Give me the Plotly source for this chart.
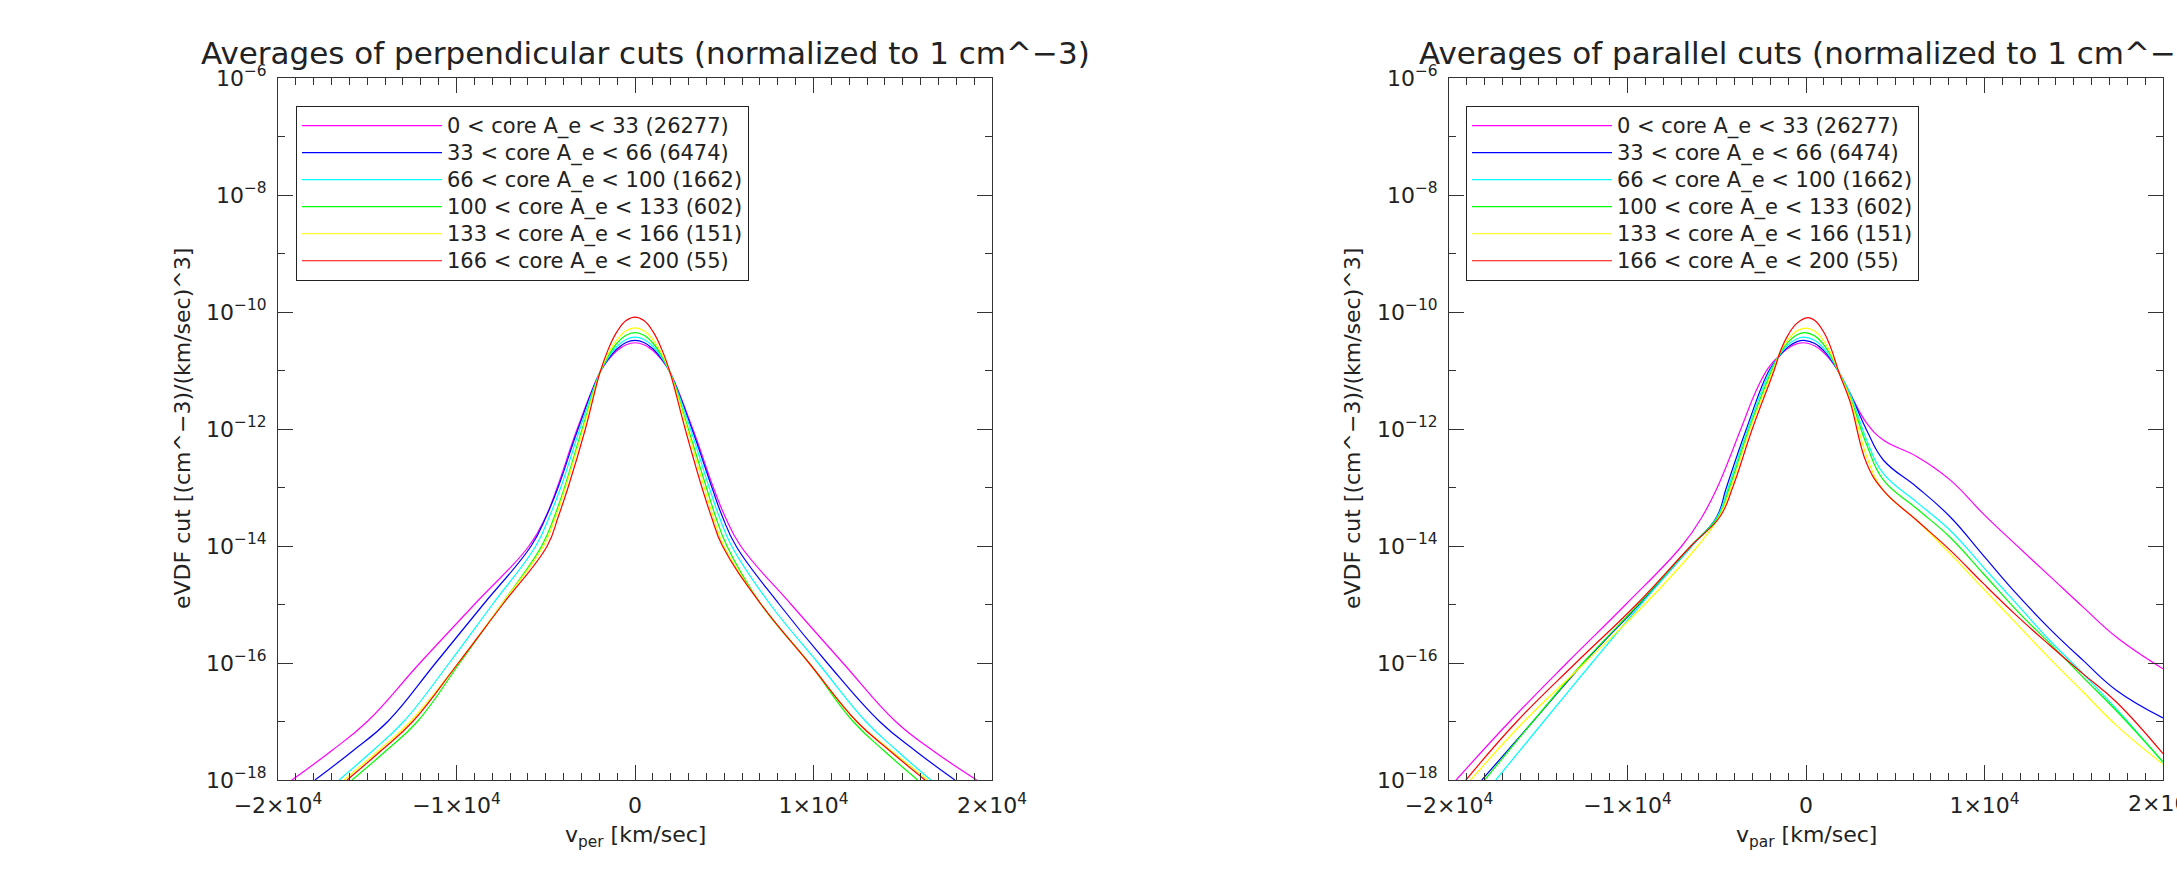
import plotly.graph_objects as go

W, H = 2177, 877

# ---------------- data (log10 of eVDF cut) ----------------
labels = ["0 < core A_e < 33 (26277)", "33 < core A_e < 66 (6474)",
          "66 < core A_e < 100 (1662)", "100 < core A_e < 133 (602)",
          "133 < core A_e < 166 (151)", "166 < core A_e < 200 (55)"]
colors = ["#ff00ff", "#0000ff", "#00ffff", "#00ff00", "#ffff00", "#ff0000"]

# perpendicular cuts
per_v_0 = [-19220, -17000, -15000, -12050, -9000, -5940, -5000, -4360, -3240, -1960, -1500, -1000, -500, 0, 500, 1000, 1500, 1960, 3240, 4390, 5050, 5920, 8750, 11650, 14600, 16700, 19140]
per_l_0 = [-18, -17.5, -17, -16, -15, -14, -13.5, -13, -12, -11.03, -10.82, -10.657, -10.559, -10.526, -10.559, -10.657, -10.82, -11.03, -12, -13, -13.5, -14, -15, -16, -17, -17.5, -18]
per_v_1 = [-17930, -15800, -13850, -11170, -8500, -5820, -4980, -4310, -3190, -1960, -1500, -1000, -500, 0, 500, 1000, 1500, 1960, 3190, 4310, 4900, 5660, 8090, 10770, 13700, 15700, 17920]
per_l_1 = [-18, -17.5, -17, -16, -15, -14, -13.5, -13, -12, -11.03, -10.805, -10.628, -10.521, -10.486, -10.521, -10.628, -10.805, -11.03, -12, -13, -13.5, -14, -15, -16, -17, -17.5, -18]
per_v_2 = [-16580, -14700, -12960, -10410, -7990, -5560, -4800, -4160, -3090, -1960, -1500, -1000, -500, 0, 500, 1000, 1500, 1960, 3110, 4160, 4720, 5410, 7580, 10260, 12930, 14680, 16570]
per_l_2 = [-18, -17.5, -17, -16, -15, -14, -13.5, -13, -12, -11.03, -10.78, -10.586, -10.469, -10.43, -10.469, -10.586, -10.78, -11.03, -12, -13, -13.5, -14, -15, -16, -17, -17.5, -18]
per_v_3 = [-15850, -13950, -12190, -9820, -7480, -5230, -4520, -3950, -2960, -1960, -1500, -1000, -500, 0, 500, 1000, 1500, 1960, 2985, 4000, 4520, 5150, 7070, 9750, 12220, 13950, 15830]
per_l_3 = [-18, -17.5, -17, -16, -15, -14, -13.5, -13, -12, -11.03, -10.75, -10.53, -10.398, -10.354, -10.398, -10.53, -10.75, -11.03, -12, -13, -13.5, -14, -15, -16, -17, -17.5, -18]
per_v_4 = [-16300, -14380, -12580, -9900, -7480, -5130, -4450, -3900, -2910, -1960, -1500, -1000, -500, 0, 500, 1000, 1500, 1960, 2930, 3880, 4380, 4970, 7070, 9750, 12420, 14350, 16410]
per_l_4 = [-18, -17.5, -17, -16, -15, -14, -13.5, -13, -12, -11.03, -10.715, -10.468, -10.319, -10.27, -10.319, -10.468, -10.715, -11.03, -12, -13, -13.5, -14, -15, -16, -17, -17.5, -18]
per_v_5 = [-16130, -14230, -12450, -9900, -7420, -4920, -4300, -3750, -2780, -1960, -1500, -1000, -500, 0, 500, 1000, 1500, 1960, 2810, 3750, 4280, 4900, 7070, 9750, 12420, 14270, 16250]
per_l_5 = [-18, -17.5, -17, -16, -15, -14, -13.5, -13, -12, -11.03, -10.639, -10.332, -10.147, -10.086, -10.147, -10.332, -10.639, -11.03, -12, -13, -13.5, -14, -15, -16, -17, -17.5, -18]

# parallel cuts
par_v_0 = [-19600, -16600, -13400, -10100, -6960, -5820, -4970, -3650, -2800, -2100, -1400, -800, -170, 500, 1000, 1400, 1840, 2465, 3400, 4330, 6200, 8070, 9930, 11800, 13670, 15540, 17400, 20000]
par_l_0 = [-18, -17, -16, -15, -14, -13.5, -13, -12, -11.35, -10.95, -10.72, -10.58, -10.526, -10.582, -10.697, -10.833, -11.03, -11.39, -11.9, -12.19, -12.47, -12.87, -13.45, -13.99, -14.52, -15.05, -15.56, -16.1]
par_v_1 = [-18160, -15300, -12450, -9350, -6400, -5000, -4460, -3340, -2070, -1400, -1000, -500, -120, 500, 1000, 1400, 1840, 2465, 3400, 4330, 6200, 8070, 9930, 11800, 13670, 15540, 17400, 20000]
par_l_1 = [-18, -17, -16, -15, -14, -13.5, -13, -12, -11, -10.72, -10.596, -10.507, -10.486, -10.54, -10.664, -10.813, -11.03, -11.39, -12.02, -12.53, -12.99, -13.5, -14.16, -14.82, -15.42, -15.96, -16.47, -16.94]
par_v_2 = [-17380, -14700, -12000, -9250, -6400, -4970, -4360, -3260, -2000, -1400, -1000, -500, -100, 500, 1000, 1400, 1840, 2465, 3400, 4330, 6200, 8070, 9930, 11800, 13670, 15540, 17400, 20000]
par_l_2 = [-18, -17, -16, -15, -14, -13.5, -13, -12, -11, -10.70, -10.56, -10.456, -10.43, -10.487, -10.623, -10.789, -11.03, -11.39, -12.19, -12.76, -13.25, -13.73, -14.36, -14.99, -15.62, -16.19, -16.79, -17.7]
par_v_3 = [-18000, -15300, -12500, -9400, -6450, -4920, -4290, -3190, -1920, -1400, -1000, -500, -50, 500, 1000, 1400, 1840, 2465, 3400, 4330, 6200, 8070, 9930, 11800, 13670, 15540, 17400, 20000]
par_l_3 = [-18, -17, -16, -15, -14, -13.5, -13, -12, -11, -10.677, -10.514, -10.39, -10.354, -10.411, -10.563, -10.752, -11.03, -11.45, -12.27, -12.87, -13.36, -13.85, -14.47, -15.1, -15.67, -16.25, -16.82, -17.69]
par_v_4 = [-18790, -15800, -12400, -9050, -6070, -4870, -4210, -3140, -1860, -1400, -1000, -500, 0, 500, 1000, 1400, 1840, 2465, 3400, 4330, 6200, 8070, 9930, 11800, 13670, 15540, 17400, 20000]
par_l_4 = [-18, -17, -16, -15, -14, -13.5, -13, -12, -11, -10.654, -10.468, -10.322, -10.274, -10.33, -10.497, -10.712, -11.03, -11.47, -12.47, -13.05, -13.56, -14.13, -14.73, -15.33, -15.93, -16.5, -17.07, -17.73]
par_v_5 = [-19050, -16200, -12900, -9500, -6450, -4820, -4110, -3010, -1790, -1400, -1000, -500, 100, 500, 1000, 1400, 1840, 2465, 3400, 4330, 6200, 8070, 9930, 11800, 13670, 15540, 17400, 20000]
par_l_5 = [-18, -17, -16, -15, -14, -13.5, -13, -12, -11, -10.64, -10.39, -10.19, -10.097, -10.146, -10.347, -10.618, -11.03, -11.53, -12.59, -13.05, -13.56, -14.07, -14.64, -15.19, -15.70, -16.19, -16.67, -17.55]

per_v = [per_v_0, per_v_1, per_v_2, per_v_3, per_v_4, per_v_5]
per_l = [per_l_0, per_l_1, per_l_2, per_l_3, per_l_4, per_l_5]
par_v = [par_v_0, par_v_1, par_v_2, par_v_3, par_v_4, par_v_5]
par_l = [par_l_0, par_l_1, par_l_2, par_l_3, par_l_4, par_l_5]

x_tickvals = [-20000, -10000, 0, 10000, 20000]
x_ticktext = ["\u22122\u00d710<sup>4</sup>", "\u22121\u00d710<sup>4</sup>", "0",
              "1\u00d710<sup>4</sup>", "2\u00d710<sup>4</sup>"]
y_major_exp = [-18, -16, -14, -12, -10, -8, -6]
y_minor_exp = [-17, -15, -13, -11, -9, -7]

titles = ["Averages of perpendicular cuts (normalized to 1 cm^\u22123)",
          "Averages of parallel cuts (normalized to 1 cm^\u22123)"]
xtitles = ["v<sub>per</sub> [km/sec]", "v<sub>par</sub> [km/sec]"]
ytitle = "eVDF cut [(cm^\u22123)/(km/sec)^3]"

# ---------------- figure ----------------
FONT = "DejaVu Sans"
TXT = "#222222"
AX = "#333333"
TICKSIZE = 22

def legend_name(s):
    return '<span style="font-size:21px">' + s + "</span>"

fig = go.Figure()
for i in range(6):
    fig.add_trace(go.Scatter(
        x=per_v[i], y=[10 ** v for v in per_l[i]], mode="lines", name=legend_name(labels[i]),
        line=dict(color=colors[i], width=1.2, shape="spline", smoothing=1.2),
        xaxis="x", yaxis="y", legend="legend"))
for i in range(6):
    fig.add_trace(go.Scatter(
        x=par_v[i], y=[10 ** v for v in par_l[i]], mode="lines", name=legend_name(labels[i]),
        line=dict(color=colors[i], width=1.2, shape="spline", smoothing=1.2),
        xaxis="x2", yaxis="y2", legend="legend2"))

def xax(dom, anchor, ticktext):
    return dict(domain=dom, anchor=anchor, range=[-20000, 20000],
                tickmode="array", tickvals=x_tickvals, ticktext=ticktext,
                ticks="inside", ticklen=15, tickwidth=1, tickcolor=AX,
                showline=True, linecolor=AX, linewidth=1, mirror="ticks",
                showgrid=False, zeroline=False, automargin=False,
                ticklabelstandoff=6,
                tickfont=dict(family=FONT, size=TICKSIZE, color=TXT),
                minor=dict(ticks="inside", ticklen=7, tickwidth=1, tickcolor=AX,
                           dtick=1000, tick0=0, showgrid=False))

def yax(anchor):
    return dict(domain=[1 - 780 / H, 1 - 78 / H], anchor=anchor, type="log",
                range=[-18, -6], tickmode="array",
                tickvals=[10.0 ** e for e in y_major_exp],
                ticktext=["10<sup>\u2212%d</sup>" % (-e) for e in y_major_exp],
                ticks="inside", ticklen=15, tickwidth=1, tickcolor=AX,
                showline=True, linecolor=AX, linewidth=1, mirror="ticks",
                showgrid=False, zeroline=False, automargin=False,
                ticklabelstandoff=6,
                tickfont=dict(family=FONT, size=TICKSIZE, color=TXT),
                minor=dict(ticks="inside", ticklen=7, tickwidth=1, tickcolor=AX,
                           tickmode="array",
                           tickvals=[10.0 ** e for e in y_minor_exp],
                           showgrid=False))

legend_style = dict(xanchor="left", yanchor="top", bgcolor="white",
                    bordercolor=TXT, borderwidth=1, itemwidth=140,
                    font=dict(family=FONT, size=18.5, color=TXT),
                    tracegroupgap=0)

ann = []
for k, (cx, tx, ylab_x) in enumerate([(635, 199, 182), (1806, 1417, 1352)]):
    ann.append(dict(text=titles[k], x=tx / W, y=1 - 53 / H, xref="paper", yref="paper",
                    xanchor="left", yanchor="middle", showarrow=False,
                    font=dict(family=FONT, size=31, color=TXT)))
    ann.append(dict(text=xtitles[k], x=cx / W, y=1 - 836 / H, xref="paper", yref="paper",
                    xanchor="center", yanchor="middle", showarrow=False,
                    font=dict(family=FONT, size=22, color=TXT)))
    ann.append(dict(text=ytitle, x=ylab_x / W, y=1 - 429 / H, xref="paper", yref="paper",
                    xanchor="center", yanchor="middle", showarrow=False, textangle=-90,
                    font=dict(family=FONT, size=22, color=TXT)))

# the last tick label of the right panel is cut by the page edge
ann.append(dict(text=x_ticktext[-1], x=x_tickvals[-1], xref="x2", y=1 - 802 / H, yref="paper",
                xanchor="center", yanchor="middle", showarrow=False,
                font=dict(family=FONT, size=TICKSIZE, color=TXT)))
x_ticktext_right = x_ticktext[:-1] + [""]

fig.update_layout(
    width=W, height=H, margin=dict(l=0, r=0, t=0, b=0),
    paper_bgcolor="white", plot_bgcolor="white",
    showlegend=True,
    xaxis=xax([278 / W, 992 / W], "y", x_ticktext),
    yaxis=yax("x"),
    xaxis2=xax([1449 / W, 2163 / W], "y2", x_ticktext_right),
    yaxis2=yax("x2"),
    legend=dict(x=296 / W, y=1 - 106 / H, **legend_style),
    legend2=dict(x=1466 / W, y=1 - 106 / H, **legend_style),
    annotations=ann,
    font=dict(family=FONT, color=TXT),
)

fig.write_html("out.html")
